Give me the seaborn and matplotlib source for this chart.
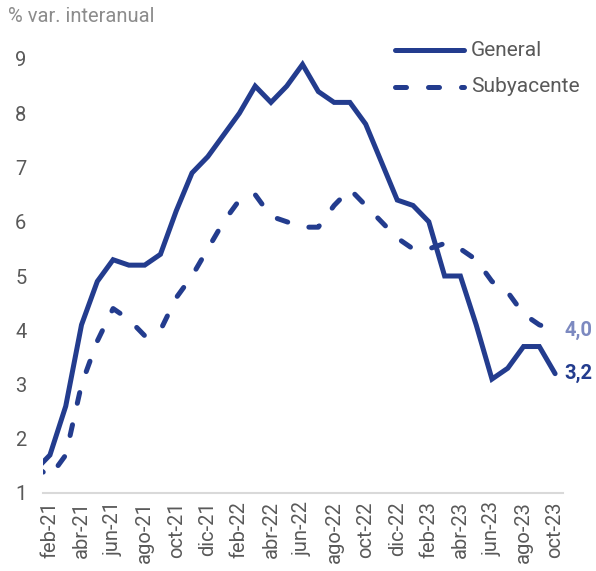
import matplotlib
matplotlib.use("Agg")
import matplotlib.pyplot as plt
import pandas as pd
import seaborn as sns

MONTHS = ["ene-21", "feb-21", "mar-21", "abr-21", "may-21", "jun-21", "jul-21", "ago-21",
          "sep-21", "oct-21", "nov-21", "dic-21", "ene-22", "feb-22", "mar-22", "abr-22",
          "may-22", "jun-22", "jul-22", "ago-22", "sep-22", "oct-22", "nov-22", "dic-22",
          "ene-23", "feb-23", "mar-23", "abr-23", "may-23", "jun-23", "jul-23", "ago-23",
          "sep-23", "oct-23"]

general = [1.4, 1.7, 2.6, 4.1, 4.9, 5.3, 5.2, 5.2, 5.4, 6.2, 6.9, 7.2, 7.6, 8.0, 8.5, 8.2,
           8.5, 8.9, 8.4, 8.2, 8.2, 7.8, 7.1, 6.4, 6.3, 6.0, 5.0, 5.0, 4.1, 3.1, 3.3, 3.7,
           3.7, 3.2]
subyacente = [1.5, 1.3, 1.7, 3.0, 3.8, 4.4, 4.2, 3.9, 4.0, 4.6, 5.0, 5.5, 6.0, 6.4, 6.5, 6.1,
              6.0, 5.9, 5.9, 6.3, 6.6, 6.3, 6.0, 5.7, 5.5, 5.5, 5.6, 5.5, 5.3, 4.9, 4.7, 4.3,
              4.1, 4.0]

SERIES = ["General", "Subyacente"]
DARK = "#233C8E"
LIGHT = "#7C89C0"
GREY = "#595959"
DASH = (2.2, 4.4)

df = pd.DataFrame({"mes": MONTHS, "General": general, "Subyacente": subyacente})
df["i"] = range(len(df))
long = df.melt(id_vars=["mes", "i"], value_vars=SERIES, var_name="serie", value_name="valor")

sns.set_style("white")
plt.rcParams["font.family"] = ["Roboto", "DejaVu Sans"]

fig = plt.figure(figsize=(5.96, 5.71), dpi=100)
ax = fig.add_axes([43 / 596, 1 - 493 / 571, (563 - 43) / 596, (493 - 59) / 571])

sns.lineplot(data=long, x="i", y="valor", hue="serie", style="serie",
             palette=[DARK, DARK], dashes=[(None, None), DASH],
             linewidth=3.6, ax=ax, legend=False)
for ln in ax.get_lines():
    if ln.get_linestyle() not in ("-", "solid"):
        ln.set_linestyle((0, DASH))
    ln.set_dash_capstyle("round")
    ln.set_solid_capstyle("round")
    ln.set_solid_joinstyle("miter")

ax.set_xlim(0.56, 33.5)
ax.set_ylim(1, 9)
ax.set_yticks(range(1, 10))
ax.set_yticklabels([str(v) for v in range(1, 10)])
ticks = list(range(1, len(MONTHS), 2))
ax.set_xticks(ticks)
ax.set_xticklabels([MONTHS[t] for t in ticks], rotation=90)
ax.tick_params(axis="x", length=0, pad=6, labelsize=14.5, labelcolor=GREY)
ax.tick_params(axis="y", length=0, pad=16, labelsize=14.5, labelcolor=GREY)
for lab in ax.get_yticklabels():
    lab.set_horizontalalignment("center")
ax.set_xlabel("")
ax.set_ylabel("")
sns.despine(ax=ax, left=True, top=True, right=True)
ax.spines["bottom"].set_color("#D9D9D9")
ax.spines["bottom"].set_linewidth(1.5)

# legend drawn by hand to match the handle layout
lx0, lx1 = 395 / 596, 464 / 596
for name, yy, ls in [("General", 1 - 50 / 571, "-"), ("Subyacente", 1 - 87 / 571, (0, DASH))]:
    h = plt.Line2D([lx0, lx1], [yy, yy], transform=fig.transFigure, color=DARK,
                   linewidth=3.6, linestyle=ls, dash_capstyle="round", solid_capstyle="round")
    fig.add_artist(h)
    fig.text(471 / 596, yy, name, fontsize=15, color=GREY, va="center", ha="left")

fig.text(8 / 596, 1 - 16 / 571, "% var. interanual", fontsize=14.5, color="#8C8C8C",
         va="center", ha="left")

last = len(MONTHS) - 1
ax.annotate(f"{subyacente[-1]:.1f}".replace(".", ","), (last, subyacente[-1]),
            xytext=(7, 0), textcoords="offset points", color=LIGHT, fontsize=14.5,
            fontweight="bold", va="center", annotation_clip=False)
ax.annotate(f"{general[-1]:.1f}".replace(".", ","), (last, general[-1]),
            xytext=(7, 0), textcoords="offset points", color=DARK, fontsize=14.5,
            fontweight="bold", va="center", annotation_clip=False)

fig.savefig("out.png", dpi=100)
